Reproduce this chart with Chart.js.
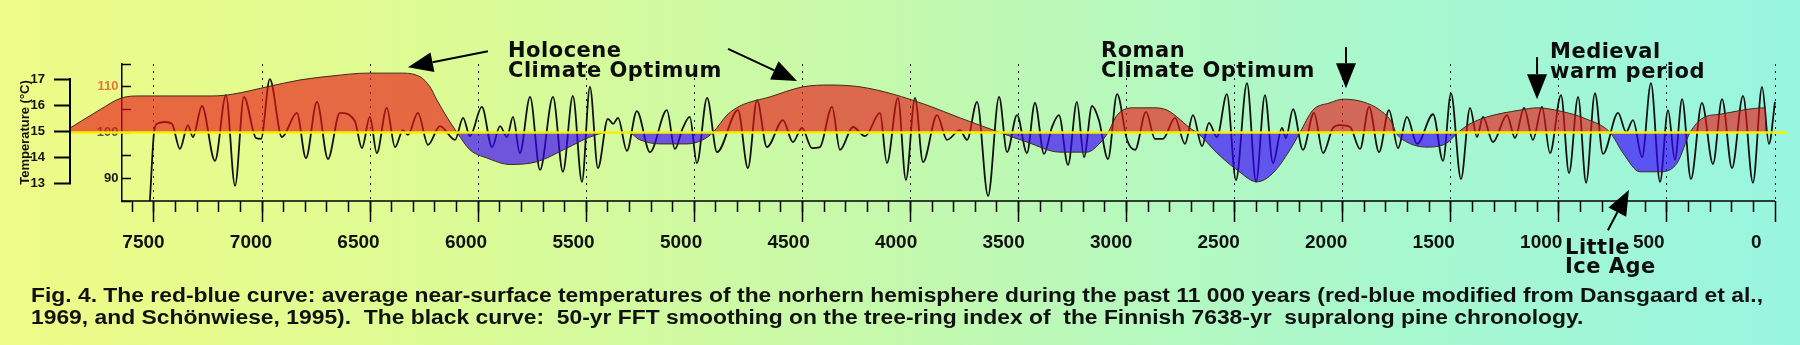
<!DOCTYPE html>
<html>
<head>
<meta charset="utf-8">
<script src="https://cdn.jsdelivr.net/npm/chart.js@4/dist/chart.umd.min.js"></script>
<style>
  html, body { margin: 0; padding: 0; }
  body {
    width: 1800px; height: 345px; overflow: hidden;
    background: linear-gradient(90deg, #eefb86 0%, #dcfb95 25%, #c4f9ad 50%, #aaf8cc 75%, #98f5e0 100%);
  }
  #wrap { position: relative; width: 1800px; height: 345px; }
  #chart { position: absolute; left: 0; top: 0; }
  .note {
    position: absolute; font-family: 'DejaVu Sans', sans-serif; font-weight: bold;
    font-size: 21px; line-height: 20px; color: #0d0d0d; letter-spacing: 0.5px; white-space: nowrap;
  }
  .caption {
    position: absolute; left: 31px; font-family: 'Liberation Sans', Arial, sans-serif; font-weight: bold;
    font-size: 19.5px; line-height: 22px; color: #111; white-space: pre; transform-origin: 0 0;
  }
</style>
</head>
<body>
<div id="wrap">
  <canvas id="chart" width="1800" height="345"></canvas>
  <div class="note" style="left:508px; top:40px">Holocene<br>Climate Optimum</div>
  <div class="note" style="left:1101px; top:40px">Roman<br>Climate Optimum</div>
  <div class="note" style="left:1550px; top:41px">Medieval<br>warm period</div>
  <div class="note" style="left:1565px; top:238px; line-height:19px">Little<br>Ice Age</div>
  <div class="caption" id="cap1" style="top:284px">Fig. 4. The red-blue curve: average near-surface temperatures of the norhern hemisphere during the past 11 000 years (red-blue modified from Dansgaard et al.,</div>
  <div class="caption" id="cap2" style="top:306px">1969, and Schönwiese, 1995).  The black curve:  50-yr FFT smoothing on the tree-ring index of  the Finnish 7638-yr  supralong pine chronology.</div>
</div>
<script>
// ---- values ----
// x: years before present, y: tree-ring index (100 = the 15 °C line)

// black curve: 50-yr FFT smoothed tree-ring index
const ringYears = [
  7519, 7500, 7486, 7449, 7417, 7380, 7343, 7320, 7278, 7218,
  7167, 7125, 7084, 7028, 7005, 6964, 6908, 6839, 6797, 6746,
  6695, 6640, 6571, 6538, 6501, 6469, 6423, 6385, 6348, 6325,
  6279, 6232, 6177, 6107, 6070, 6038, 5983, 5936, 5899, 5867,
  5839, 5807, 5760, 5714, 5654, 5608, 5562, 5520, 5483, 5446,
  5400, 5376, 5353, 5312, 5266, 5205, 5127, 5090, 5053, 5021,
  4988, 4941, 4895, 4798, 4752, 4710, 4664, 4590, 4544, 4502,
  4456, 4419, 4363, 4326, 4266, 4210, 4141, 4109, 4058, 4021,
  3979, 3942, 3877, 3831, 3771, 3738, 3692, 3641, 3590, 3553,
  3507, 3461, 3424, 3382, 3345, 3313, 3271, 3230, 3197, 3160,
  3128, 3086, 3044, 2998, 2961, 2910, 2869, 2832, 2776, 2730,
  2693, 2651, 2619, 2582, 2536, 2494, 2443, 2401, 2360, 2323,
  2281, 2263, 2230, 2184, 2133, 2091, 2045, 2013, 1966, 1920,
  1878, 1832, 1786, 1744, 1703, 1656, 1582, 1536, 1499, 1453,
  1411, 1379, 1351, 1305, 1240, 1203, 1161, 1120, 1078, 1041,
  990, 953, 911, 874, 833, 796, 726, 689, 657, 615,
  574, 532, 495, 463, 430, 389, 338, 287, 245, 199,
  148, 102, 60, 28, 0
];
const ringValues = [
  85.0, 99.9, 101.9, 102.3, 101.9, 96.4, 101.6, 99.0, 105.8, 93.8,
  108.2, 88.3, 107.8, 98.8, 98.6, 111.7, 99.0, 104.3, 94.4, 106.7,
  94.2, 104.3, 102.5, 96.6, 103.4, 95.5, 105.4, 96.8, 100.5, 99.5,
  104.3, 97.3, 101.4, 98.4, 103.2, 99.2, 105.6, 96.8, 101.4, 99.0,
  103.4, 95.5, 107.8, 91.8, 107.8, 91.4, 108.0, 89.2, 110.0, 92.2,
  103.0, 101.9, 103.2, 96.0, 104.7, 95.7, 104.9, 96.4, 101.0, 103.4,
  93.3, 107.6, 95.7, 104.9, 92.2, 107.1, 96.8, 102.7, 97.9, 101.0,
  96.6, 96.8, 105.6, 96.2, 101.2, 99.2, 104.3, 93.3, 107.6, 89.6,
  107.6, 93.5, 103.8, 98.4, 100.5, 98.4, 106.7, 86.1, 107.8, 95.7,
  103.8, 95.5, 106.5, 95.3, 101.2, 103.8, 92.9, 106.7, 94.6, 105.8,
  102.7, 94.2, 108.4, 98.4, 96.2, 104.5, 98.6, 98.6, 103.2, 97.5,
  103.8, 97.0, 102.1, 99.0, 108.4, 89.6, 110.8, 89.2, 108.2, 93.3,
  101.0, 98.8, 105.1, 96.2, 104.3, 95.5, 101.0, 101.6, 101.2, 96.4,
  105.6, 95.7, 104.9, 96.6, 103.4, 97.5, 104.0, 93.8, 108.6, 89.8,
  105.4, 99.0, 103.4, 97.9, 103.8, 98.8, 105.4, 98.4, 105.6, 95.5,
  108.2, 91.1, 107.8, 89.0, 108.6, 95.3, 104.3, 100.1, 102.7, 94.6,
  110.8, 89.2, 104.9, 94.0, 107.3, 89.8, 106.5, 93.1, 107.3, 92.2,
  108.0, 89.0, 110.0, 97.5, 106.7
];

// red-blue curve: mean northern-hemisphere temperature (same index units)
const envYears = [
  7921, 7750, 7648, 7565, 7227, 7135, 6977, 6825, 6672, 6515,
  6362, 6269, 6223, 6191, 6145, 6098, 6038, 5959, 5853, 5728,
  5589, 5483, 5404, 5307, 5252, 5159, 5034, 4960, 4914, 4849,
  4789, 4650, 4497, 4372, 4234, 4081, 3924, 3771, 3586, 3461,
  3308, 3183, 3123, 3086, 3044, 2970, 2878, 2813, 2693, 2674,
  2582, 2489, 2397, 2323, 2244, 2198, 2138, 2059, 1999, 1906,
  1828, 1772, 1754, 1703, 1610, 1518, 1467, 1411, 1333, 1180,
  1101, 995, 870, 763, 703, 625, 532, 453, 393, 333,
  254, 46, 42
];
const envValues = [
  100, 105, 107.6, 108, 108, 108.4, 110, 111.5, 112.4, 113,
  113, 112.2, 110, 107.1, 103.4, 100, 96.2, 94.4, 93, 93.6,
  96.6, 99, 100, 100, 98.4, 97.5, 97.5, 98.4, 100, 103.8,
  105.8, 107.8, 110, 110.4, 110, 108.4, 106, 103.2, 100, 97.9,
  95.7, 95.7, 97.7, 100, 103.8, 105.4, 105.4, 104.9, 100.5, 100,
  95.5, 91.8, 89.2, 91.1, 96.2, 100, 104.9, 106.5, 107.3, 106.7,
  104.9, 102.1, 100, 97.9, 96.8, 97.7, 100, 101.9, 103.4, 104.9,
  105.4, 104.7, 102.9, 100, 95.5, 91.4, 91.4, 93.3, 100, 103.2,
  104, 105.4, 100
];

const baseValue = 100;              // 15 °C
const baseYears = [7960, -60];

// axes
const labelYears = [7500, 7000, 6500, 6000, 5500, 5000, 4500, 4000, 3500, 3000, 2500, 2000, 1500, 1000, 500, 0];
const minorLastYear = 7600;
const axisStartYear = 7648;         // where the index axis stands
const indexTicks = [85, 90, 95, 100, 105, 110, 115];
const indexLabels = [90, 100, 110];
const tempTicks = [13, 14, 15, 16, 17];

// annotation arrows [year, index]
const arrowTails = [[5955, 117.8], [4844, 118.3], [1985, 118.7], [1101, 116.5], [773, 78.6]];
const arrowTips  = [[6325, 114.3], [4525, 111.3], [1985, 109.7], [1101, 107.3], [676, 87.4]];

// ranges
const xMin = -55.5, xMax = 7884;
const labMin = -143, labMax = 7837;   // the printed year labels sit slightly off their ticks
const idxMin = 85, idxMax = 115;
const tempMin = 12.308, tempMax = 17.577;
const plotBottom = 201;

Chart.defaults.font.family = "'Liberation Sans', Arial, sans-serif";

function drawArrow(ctx, x0, y0, x1, y1) {
  const a = Math.atan2(y1 - y0, x1 - x0);
  const len = 25, half = 10;
  const bx = x1 - len * Math.cos(a), by = y1 - len * Math.sin(a);
  ctx.beginPath();
  ctx.moveTo(x0, y0);
  ctx.lineTo(bx, by);
  ctx.stroke();
  ctx.beginPath();
  ctx.moveTo(x1, y1);
  ctx.lineTo(bx + half * Math.sin(a), by - half * Math.cos(a));
  ctx.lineTo(bx - half * Math.sin(a), by + half * Math.cos(a));
  ctx.closePath();
  ctx.fill();
}

const extras = {
  id: 'extras',
  beforeDatasetsDraw(chart) {
    const {ctx, chartArea, scales} = chart;
    ctx.save();
    ctx.strokeStyle = '#000';
    // x axis line only runs from the index axis to year 0
    ctx.lineWidth = 1.5;
    ctx.beginPath();
    ctx.moveTo(scales.x.getPixelForValue(axisStartYear), chartArea.bottom);
    ctx.lineTo(scales.x.getPixelForValue(0), chartArea.bottom);
    ctx.stroke();
    // temperature bracket 13..17
    const t = scales.yT;
    ctx.lineWidth = 2;
    ctx.beginPath();
    ctx.moveTo(t.right - 1, t.getPixelForValue(tempTicks[tempTicks.length - 1]) - 1);
    ctx.lineTo(t.right - 1, t.getPixelForValue(tempTicks[0]) + 1);
    ctx.stroke();
    ctx.restore();
  },
  afterDatasetsDraw(chart) {
    const {ctx, scales} = chart;
    ctx.save();
    ctx.strokeStyle = '#000';
    ctx.fillStyle = '#000';
    ctx.lineWidth = 2;
    arrowTails.forEach((tail, i) => {
      const tip = arrowTips[i];
      drawArrow(ctx,
        scales.x.getPixelForValue(tail[0]), scales.y.getPixelForValue(tail[1]),
        scales.x.getPixelForValue(tip[0]), scales.y.getPixelForValue(tip[1]));
    });
    ctx.restore();
  }
};

const chart = new Chart(document.getElementById('chart'), {
  type: 'line',
  data: {
    datasets: [
      {
        label: '15 °C',
        data: baseYears.map(x => ({x, y: baseValue})),
        borderColor: '#f7ef00',
        borderWidth: 2.5,
        pointRadius: 0,
        order: 0
      },
      {
        label: 'temperature',
        data: envYears.map((x, i) => ({x, y: envValues[i]})),
        borderColor: '#3b2a14',
        borderWidth: 1,
        pointRadius: 0,
        cubicInterpolationMode: 'monotone',
        fill: { target: { value: baseValue }, above: 'rgba(232, 22, 22, 0.64)', below: 'rgba(55, 0, 255, 0.66)' },
        order: 1
      },
      {
        label: 'tree-ring index',
        data: ringYears.map((x, i) => ({x, y: ringValues[i]})),
        borderColor: '#111',
        borderWidth: 1.8,
        pointRadius: 0,
        cubicInterpolationMode: 'monotone',
        fill: false,
        order: 2
      }
    ]
  },
  options: {
    responsive: false,
    animation: false,
    layout: { padding: { left: 0, top: 64, right: 13, bottom: 0 } },
    plugins: { legend: { display: false }, tooltip: { enabled: false } },
    scales: {
      x: {
        type: 'linear', position: 'bottom', reverse: true, min: xMin, max: xMax, weight: 1,
        afterBuildTicks: s => { s.ticks = labelYears.map(v => ({value: v})); },
        afterFit: s => { s.height = 0; },
        ticks: { display: false, autoSkip: false },
        grid: { drawOnChartArea: true, color: '#1c2433', lineWidth: 1, tickLength: 21, tickColor: '#000', tickWidth: 1.5, tickBorderDash: [] },
        border: { display: false, dash: [2, 5] }
      },
      xMinor: {
        type: 'linear', axis: 'x', position: 'bottom', reverse: true, min: xMin, max: xMax, weight: 2,
        afterBuildTicks: s => { s.ticks = s.ticks.filter(t => t.value >= 0 && t.value <= minorLastYear && t.value % 100 === 0); },
        afterFit: s => { s.height = 0; },
        ticks: { display: false, stepSize: 100, autoSkip: false },
        grid: { drawOnChartArea: false, tickLength: 11, color: '#000', tickWidth: 1.5 },
        border: { display: false }
      },
      xLab: {
        type: 'linear', axis: 'x', position: 'bottom', reverse: true, min: labMin, max: labMax, weight: 3,
        afterBuildTicks: s => { s.ticks = labelYears.map(v => ({value: v})); },
        afterFit: s => { s.height = 345 - plotBottom; },
        ticks: { callback: v => String(v), autoSkip: false, maxRotation: 0, padding: 30, color: '#111', font: { size: 19, weight: 'bold' } },
        grid: { display: false, drawTicks: false },
        border: { display: false }
      },
      y: {
        type: 'linear', position: { x: axisStartYear }, min: idxMin, max: idxMax,
        afterBuildTicks: s => { s.ticks = indexTicks.map(v => ({value: v})); },
        ticks: {
          callback: v => indexLabels.includes(v) ? v + ' ' : '',
          color: c => c.tick.value === 110 ? '#e07a38' : (c.tick.value === 100 ? '#555' : '#1a1a1a'),
          font: { size: 13, weight: 'bold' },
          padding: 13
        },
        grid: { drawOnChartArea: false, tickLength: -10, color: '#000', tickWidth: 1.5 },
        border: { display: true, color: '#000', width: 1.5 }
      },
      yT: {
        type: 'linear', axis: 'y', position: 'left', min: tempMin, max: tempMax,
        afterBuildTicks: s => { s.ticks = tempTicks.map(v => ({value: v})); },
        afterFit: s => { s.width = 71; },
        title: { display: true, text: 'Temperature (°C)', color: '#111', font: { size: 13, weight: 'bold' }, padding: { top: 18, bottom: 0 } },
        ticks: { color: '#111', font: { size: 13, weight: 'bold' }, padding: 9 },
        grid: { drawOnChartArea: false, tickLength: 17, color: '#000', tickWidth: 2 },
        border: { display: false }
      }
    }
  },
  plugins: [extras]
});

// the caption in the figure is set a little wide: stretch line 1 to its printed width
const cap1 = document.getElementById('cap1');
const cap2 = document.getElementById('cap2');
const stretch = 1732 / cap1.getBoundingClientRect().width;
cap1.style.transform = 'scaleX(' + stretch + ')';
cap2.style.transform = 'scaleX(' + stretch + ')';
</script>
</body>
</html>
